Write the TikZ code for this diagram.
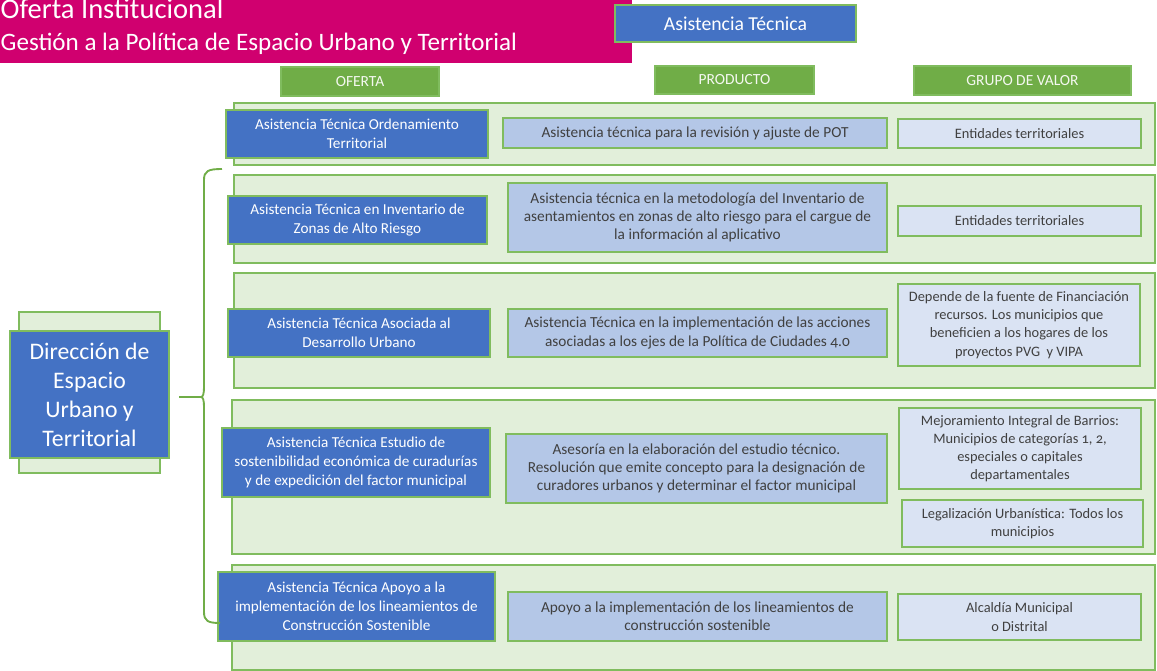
\documentclass[tikz,border=0pt]{standalone}
\usepackage{fontspec}
\setmainfont{Carlito}[Numbers=OldStyle]
\definecolor{magentaT}{HTML}{D0006F}
\definecolor{blueB}{HTML}{4472C4}
\definecolor{greenB}{HTML}{70AD47}
\definecolor{greenL}{HTML}{E2EFDA}
\definecolor{edgeG}{HTML}{80BC5E}
\definecolor{prodF}{HTML}{B4C7E7}
\definecolor{grpF}{HTML}{DAE3F3}
\definecolor{txtG}{HTML}{404040}
\begin{document}
\begin{tikzpicture}[x=0.75pt,y=-0.75pt,
  spanbox/.style n args={4}{rectangle, inner sep=0pt, outer sep=0pt,
    minimum width={(#3-#1)*0.75pt}, minimum height={(#4-#2)*0.75pt},
    at={({(#1+#3)/2},{(#2+#4)/2})}},
  band/.style={draw=edgeG, fill=greenL, line width=1.2pt},
  offerbox/.style={draw=edgeG, fill=blueB, line width=1.2pt, text=white, align=center,
    font=\fontsize{11.4}{14.2}\selectfont},
  prodbox/.style={draw=edgeG, fill=prodF, line width=1.2pt, text=txtG, align=center,
    font=\fontsize{11.5}{13.6}\selectfont},
  grpbox/.style={draw=edgeG, fill=grpF, line width=1.2pt, text=txtG, align=center,
    font=\fontsize{10.8}{13.6}\selectfont},
  headbox/.style={fill=greenB, draw=edgeG, line width=0.8pt, text=white!92!greenB,
    font=\fontsize{11.6}{13}\selectfont},
  bracket/.style={draw=greenB, line width=1.4pt}
]
\useasboundingbox (0,0) rectangle (1157,671);
\clip (0,0) rectangle (1157,671);

% title banner
\node[spanbox={-10}{-10}{632}{63}, fill=magentaT] (banner) {};
\node[anchor=base west, text=white, font=\fontsize{21.4}{24}\selectfont] (t1) at (-4,18) {Oferta Institucional};
\node[anchor=base west, text=white, font=\fontsize{18.8}{24}\selectfont] (t2) at (-4,50) {Gestión a la Política de Espacio Urbano y Territorial};

% service label
\node[spanbox={615}{5}{856}{42}, draw=edgeG, fill=blueB, line width=0.8pt, text=white,
  font=\fontsize{14.8}{16}\selectfont] (serv) {Asistencia Técnica};

% column headers
\node[spanbox={281}{67}{439}{96}, headbox] (h1) {OFERTA};
\node[spanbox={655}{66}{814}{94}, headbox] (h2) {PRODUCTO};
\node[spanbox={914}{66}{1131}{95}, headbox] (h3) {GRUPO DE VALOR};

% row bands
\node[spanbox={234}{103}{1155}{165}, band] (b1) {};
\node[spanbox={234}{175}{1155}{263}, band] (b2) {};
\node[spanbox={234}{273}{1155}{388}, band] (b3) {};
\node[spanbox={232}{400}{1155}{554}, band] (b4) {};
\node[spanbox={232}{565}{1155}{670}, band] (b5) {};

% direction block
\node[spanbox={19}{312}{160}{473}, band] (dback) {};
\node[spanbox={10}{331}{169}{458}, draw=edgeG, fill=blueB, line width=1.2pt, text=white,
  align=center, font=\fontsize{17.8}{21.8}\selectfont] (dir)
  {Dirección de\\Espacio\\Urbano y\\Territorial};

% row 1
\node[spanbox={226}{110}{488}{158}, offerbox] (o1) {Asistencia Técnica Ordenamiento\\Territorial};
\node[spanbox={503}{118}{887}{148}, prodbox] (p1) {Asistencia técnica para la revisión y ajuste de POT};
\node[spanbox={898}{119}{1141}{148}, grpbox] (g1) {Entidades territoriales};

% row 2
\node[spanbox={228}{196}{487}{244}, offerbox] (o2) {Asistencia Técnica en Inventario de\\Zonas de Alto Riesgo};
\node[spanbox={508}{183}{887}{252}, prodbox] (p2) {Asistencia técnica en la metodología del Inventario de\\asentamientos en zonas de alto riesgo para el cargue de\\la información al aplicativo};
\node[spanbox={898}{206}{1141}{236}, grpbox] (g2) {Entidades territoriales};

% row 3
\node[spanbox={228}{309}{490}{357}, offerbox] (o3) {Asistencia Técnica Asociada al\\Desarrollo Urbano};
\node[spanbox={508}{309}{887}{357}, prodbox] (p3) {Asistencia Técnica en la implementación de las acciones\\asociadas a los ejes de la Política de Ciudades 4.0};
\node[spanbox={898}{284}{1140}{366}, grpbox] (g3) {Depende de la fuente de Financiación\\recursos. Los municipios que\\beneficien a los hogares de los\\proyectos PVG\ \ y VIPA};

% row 4
\node[spanbox={222}{428}{490}{497}, offerbox] (o4) {Asistencia Técnica Estudio de\\sostenibilidad económica de curadurías\\y de expedición del factor municipal};
\node[spanbox={506}{434}{887}{503}, prodbox] (p4) {Asesoría en la elaboración del estudio técnico.\\Resolución que emite concepto para la designación de\\curadores urbanos y determinar el factor municipal};
\node[spanbox={899}{408}{1141}{489}, grpbox] (g4a) {Mejoramiento Integral de Barrios:\\Municipios de categorías 1, 2,\\especiales o capitales\\departamentales};
\node[spanbox={902}{500}{1143}{547}, grpbox] (g4b) {Legalización Urbanística: Todos los\\municipios};

% row 5
\node[spanbox={218}{572}{495}{641}, offerbox] (o5) {Asistencia Técnica Apoyo a la\\implementación de los lineamientos de\\Construcción Sostenible};
\node[spanbox={508}{592}{887}{641}, prodbox] (p5) {Apoyo a la implementación de los lineamientos de\\construcción sostenible};
\node[spanbox={898}{594}{1141}{640}, grpbox] (g5) {Alcaldía Municipal\\o Distrital};

% brace joining the direction to its offers
\coordinate (bstart) at (179,397);
\coordinate (btip) at (201,397);
\coordinate (btop) at (222,169);
\coordinate (bbot) at (220,623);
\draw[bracket] (bstart) -- (btip);
\draw[bracket] (btop) .. controls (208,169) and (204,171) .. (204,180)
  -- (204,387) .. controls (204,394) and (203,397) .. (btip)
  .. controls (203,397) and (204,400) .. (204,407)
  -- (204,612) .. controls (204,621) and (208,623) .. (bbot);
\end{tikzpicture}
\end{document}
